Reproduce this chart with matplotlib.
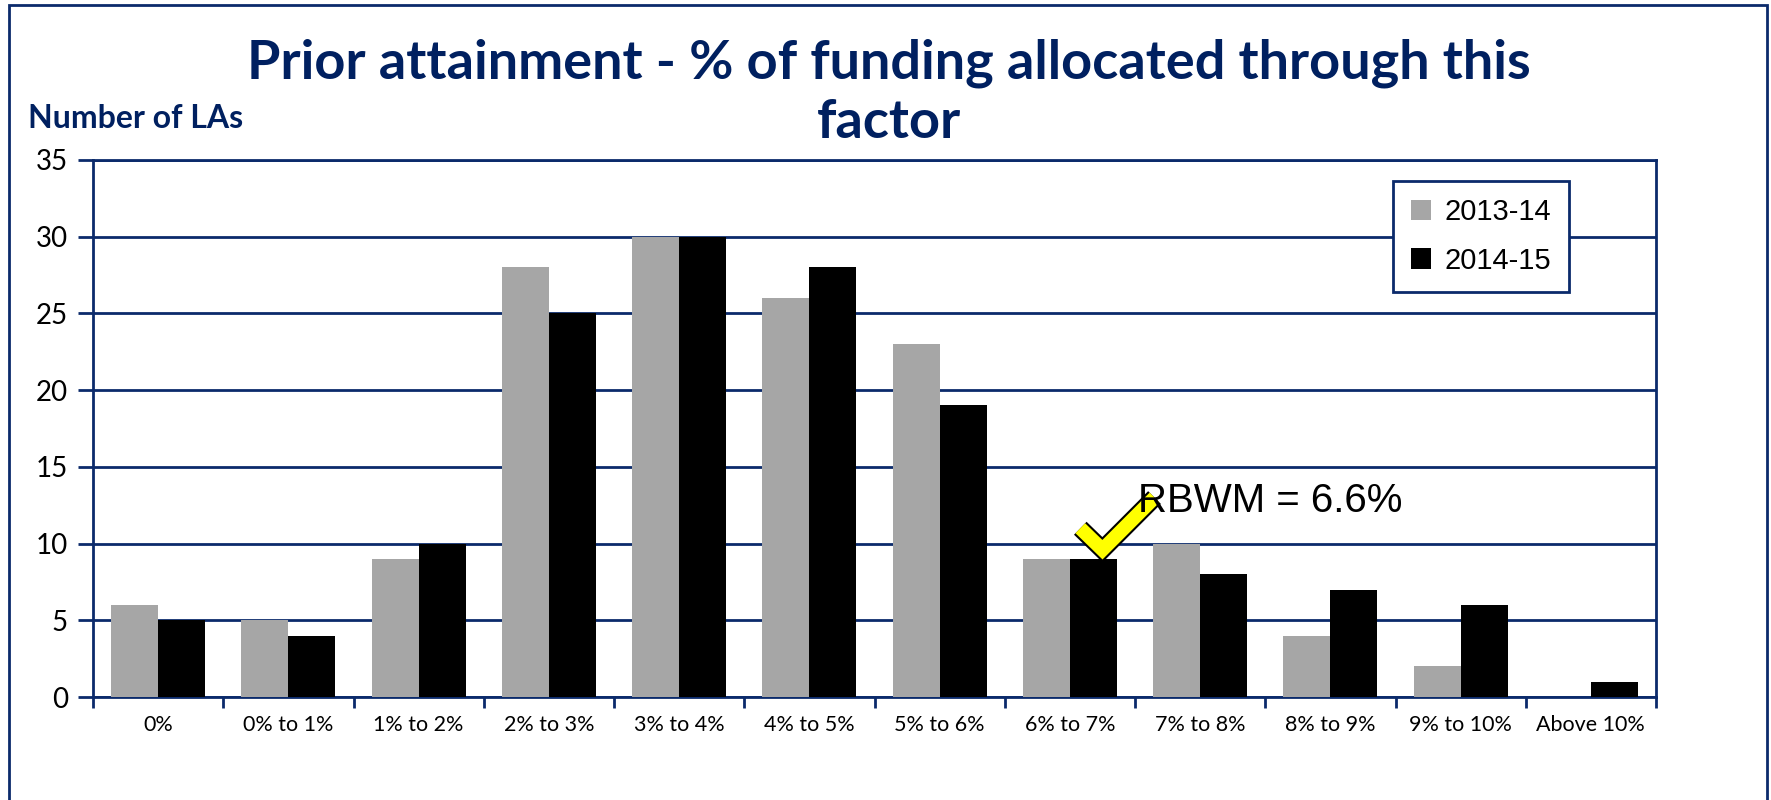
import matplotlib
matplotlib.use("Agg")
import matplotlib.pyplot as plt
import matplotlib.patheffects as pe
from matplotlib.patches import Rectangle
import numpy as np

NAVY = "#0B2A6B"
TITLE_NAVY = "#002060"

categories = ["0%", "0% to 1%", "1% to 2%", "2% to 3%", "3% to 4%", "4% to 5%",
              "5% to 6%", "6% to 7%", "7% to 8%", "8% to 9%", "9% to 10%", "Above 10%"]
y2013 = [6, 5, 9, 28, 30, 26, 23, 9, 10, 4, 2, 0]
y2014 = [5, 4, 10, 25, 30, 28, 19, 9, 8, 7, 6, 1]
series_names = ["2013-14", "2014-15"]

rbwm_label = "RBWM = 6.6%"
rbwm_cat = 7  # "6% to 7%"

fig = plt.figure(figsize=(17.71, 8), dpi=100)
ax = fig.add_axes([93 / 1771, 1 - 697 / 800, (1656 - 93) / 1771, (697 - 160) / 800])

x = np.arange(len(categories))
w = 0.36
ax.bar(x - w / 2, y2013, w, color="#A6A6A6", label=series_names[0], zorder=3)
ax.bar(x + w / 2, y2014, w, color="#000000", label=series_names[1], zorder=3)

ax.set_xlim(-0.5, len(categories) - 0.5)
ax.set_ylim(0, 35)
ax.set_yticks(range(0, 36, 5))
ax.yaxis.grid(True, color=NAVY, linewidth=2, zorder=0)
ax.set_axisbelow(True)

ax.set_xticks(x)
ax.set_xticklabels(categories, fontsize=15.5, family="Lato")
ax.set_xticks(np.arange(-0.5, len(categories)), minor=True)
ax.tick_params(axis="x", which="major", length=0, pad=13)
ax.tick_params(axis="x", which="minor", length=8, width=2, color=NAVY, direction="out")
ax.tick_params(axis="y", length=11, width=2, color=NAVY, direction="out", pad=7,
               labelsize=20)
for lab in ax.get_yticklabels():
    lab.set_family("Lato")

for s in ax.spines.values():
    s.set_color(NAVY)
    s.set_linewidth(2)

leg = ax.legend(loc="upper left", bbox_to_anchor=(0.832, 0.961), fancybox=False,
                frameon=True, prop={"family": "Liberation Sans", "size": 21},
                handlelength=0.7, handleheight=0.7, handletextpad=0.45,
                labelspacing=0.7, borderpad=0.6, borderaxespad=0)
leg.get_frame().set_edgecolor(NAVY)
leg.get_frame().set_linewidth(2)
leg.get_frame().set_alpha(1)

# checkmark over the RBWM bar
cx = rbwm_cat
cy = y2014[rbwm_cat]
ax.plot([cx + 0.08, cx + 0.25, cx + 0.65], [cy + 2.0, cy + 0.6, cy + 4.0],
        color="#FFFF00", linewidth=10, solid_joinstyle="miter", solid_capstyle="butt",
        zorder=5, path_effects=[pe.Stroke(linewidth=13, foreground="black"), pe.Normal()])
ax.text(cx + 0.52, cy + 3.8, rbwm_label, fontsize=29, family="Liberation Sans",
        va="center", ha="left", zorder=6)

fig.text(0.502, 1 - 93 / 800, "Prior attainment - % of funding allocated through this\nfactor",
         ha="center", va="center", fontsize=39, fontweight="bold", family="Lato",
         color=TITLE_NAVY, linespacing=1.25)
fig.text(28 / 1771, 1 - 119 / 800, "Number of LAs", ha="left", va="center",
         fontsize=23, fontweight="bold", family="Lato", color=TITLE_NAVY)

# outer frame (bottom edge cut off)
fig.patches.append(Rectangle((9 / 1771, -0.05), (1767 - 9) / 1771, 1.05 - 5 / 800,
                             transform=fig.transFigure, fill=False, edgecolor=NAVY,
                             linewidth=2))

fig.savefig("out.png", dpi=100)
